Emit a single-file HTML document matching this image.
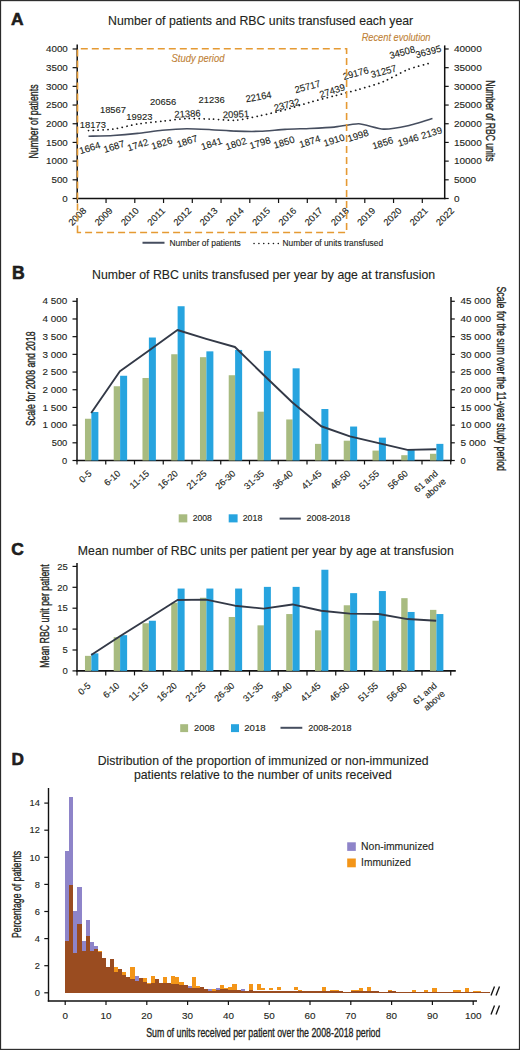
<!DOCTYPE html>
<html><head><meta charset="utf-8"><title>Figure</title>
<style>
html,body{margin:0;padding:0;background:#fff;}
body{width:520px;height:1050px;overflow:hidden;}
svg{display:block;font-family:"Liberation Sans",sans-serif;}
</style></head><body>
<svg width="520" height="1050" viewBox="0 0 520 1050">
<rect x="0.55" y="0.6" width="518.9" height="1048.8" fill="none" stroke="#2a2a2a" stroke-width="1.15"/>
<text x="11.1" y="24.9" style='font-size:17.4px;fill:#231f20;font-weight:bold' stroke="#111" stroke-width="0.55">A</text>
<text x="108" y="25.2" style='font-size:12.2px;fill:#231f20;stroke:#231f20;stroke-width:0.12px' textLength="305.2" lengthAdjust="spacingAndGlyphs">Number of patients and RBC units transfused each year</text>
<line x1="77.2" y1="44.4" x2="77.2" y2="199.2" stroke="#111111" stroke-width="1.5"/>
<line x1="72.6" y1="198.5" x2="77.2" y2="198.5" stroke="#111111" stroke-width="1.2"/>
<text x="67.8" y="201.7" style='font-size:9.2px;fill:#231f20;stroke:#231f20;stroke-width:0.12px' text-anchor="end" textLength="5.45" lengthAdjust="spacingAndGlyphs">0</text>
<line x1="72.6" y1="179.81" x2="77.2" y2="179.81" stroke="#111111" stroke-width="1.2"/>
<text x="67.8" y="183.01" style='font-size:9.2px;fill:#231f20;stroke:#231f20;stroke-width:0.12px' text-anchor="end" textLength="16.35" lengthAdjust="spacingAndGlyphs">500</text>
<line x1="72.6" y1="161.12" x2="77.2" y2="161.12" stroke="#111111" stroke-width="1.2"/>
<text x="67.8" y="164.32" style='font-size:9.2px;fill:#231f20;stroke:#231f20;stroke-width:0.12px' text-anchor="end" textLength="21.8" lengthAdjust="spacingAndGlyphs">1000</text>
<line x1="72.6" y1="142.43" x2="77.2" y2="142.43" stroke="#111111" stroke-width="1.2"/>
<text x="67.8" y="145.63" style='font-size:9.2px;fill:#231f20;stroke:#231f20;stroke-width:0.12px' text-anchor="end" textLength="21.8" lengthAdjust="spacingAndGlyphs">1500</text>
<line x1="72.6" y1="123.74" x2="77.2" y2="123.74" stroke="#111111" stroke-width="1.2"/>
<text x="67.8" y="126.94" style='font-size:9.2px;fill:#231f20;stroke:#231f20;stroke-width:0.12px' text-anchor="end" textLength="21.8" lengthAdjust="spacingAndGlyphs">2000</text>
<line x1="72.6" y1="105.05" x2="77.2" y2="105.05" stroke="#111111" stroke-width="1.2"/>
<text x="67.8" y="108.25" style='font-size:9.2px;fill:#231f20;stroke:#231f20;stroke-width:0.12px' text-anchor="end" textLength="21.8" lengthAdjust="spacingAndGlyphs">2500</text>
<line x1="72.6" y1="86.36" x2="77.2" y2="86.36" stroke="#111111" stroke-width="1.2"/>
<text x="67.8" y="89.56" style='font-size:9.2px;fill:#231f20;stroke:#231f20;stroke-width:0.12px' text-anchor="end" textLength="21.8" lengthAdjust="spacingAndGlyphs">3000</text>
<line x1="72.6" y1="67.67" x2="77.2" y2="67.67" stroke="#111111" stroke-width="1.2"/>
<text x="67.8" y="70.87" style='font-size:9.2px;fill:#231f20;stroke:#231f20;stroke-width:0.12px' text-anchor="end" textLength="21.8" lengthAdjust="spacingAndGlyphs">3500</text>
<line x1="72.6" y1="48.98" x2="77.2" y2="48.98" stroke="#111111" stroke-width="1.2"/>
<text x="67.8" y="52.18" style='font-size:9.2px;fill:#231f20;stroke:#231f20;stroke-width:0.12px' text-anchor="end" textLength="21.8" lengthAdjust="spacingAndGlyphs">4000</text>
<line x1="444.7" y1="45.4" x2="444.7" y2="199.2" stroke="#111111" stroke-width="1.5"/>
<line x1="444.7" y1="198.5" x2="448.7" y2="198.5" stroke="#111111" stroke-width="1.2"/>
<text x="453.9" y="201.7" style='font-size:9.2px;fill:#231f20;stroke:#231f20;stroke-width:0.12px' textLength="5.58" lengthAdjust="spacingAndGlyphs">0</text>
<line x1="444.7" y1="179.81" x2="448.7" y2="179.81" stroke="#111111" stroke-width="1.2"/>
<text x="453.9" y="183.01" style='font-size:9.2px;fill:#231f20;stroke:#231f20;stroke-width:0.12px' textLength="22.32" lengthAdjust="spacingAndGlyphs">5000</text>
<line x1="444.7" y1="161.12" x2="448.7" y2="161.12" stroke="#111111" stroke-width="1.2"/>
<text x="453.9" y="164.32" style='font-size:9.2px;fill:#231f20;stroke:#231f20;stroke-width:0.12px' textLength="27.9" lengthAdjust="spacingAndGlyphs">10000</text>
<line x1="444.7" y1="142.43" x2="448.7" y2="142.43" stroke="#111111" stroke-width="1.2"/>
<text x="453.9" y="145.63" style='font-size:9.2px;fill:#231f20;stroke:#231f20;stroke-width:0.12px' textLength="27.9" lengthAdjust="spacingAndGlyphs">15000</text>
<line x1="444.7" y1="123.74" x2="448.7" y2="123.74" stroke="#111111" stroke-width="1.2"/>
<text x="453.9" y="126.94" style='font-size:9.2px;fill:#231f20;stroke:#231f20;stroke-width:0.12px' textLength="27.9" lengthAdjust="spacingAndGlyphs">20000</text>
<line x1="444.7" y1="105.05" x2="448.7" y2="105.05" stroke="#111111" stroke-width="1.2"/>
<text x="453.9" y="108.25" style='font-size:9.2px;fill:#231f20;stroke:#231f20;stroke-width:0.12px' textLength="27.9" lengthAdjust="spacingAndGlyphs">25000</text>
<line x1="444.7" y1="86.36" x2="448.7" y2="86.36" stroke="#111111" stroke-width="1.2"/>
<text x="453.9" y="89.56" style='font-size:9.2px;fill:#231f20;stroke:#231f20;stroke-width:0.12px' textLength="27.9" lengthAdjust="spacingAndGlyphs">30000</text>
<line x1="444.7" y1="67.67" x2="448.7" y2="67.67" stroke="#111111" stroke-width="1.2"/>
<text x="453.9" y="70.87" style='font-size:9.2px;fill:#231f20;stroke:#231f20;stroke-width:0.12px' textLength="27.9" lengthAdjust="spacingAndGlyphs">35000</text>
<line x1="444.7" y1="48.98" x2="448.7" y2="48.98" stroke="#111111" stroke-width="1.2"/>
<text x="453.9" y="52.18" style='font-size:9.2px;fill:#231f20;stroke:#231f20;stroke-width:0.12px' textLength="27.9" lengthAdjust="spacingAndGlyphs">40000</text>
<line x1="76.5" y1="198.5" x2="445.4" y2="198.5" stroke="#111111" stroke-width="1.6"/>
<line x1="77.3" y1="198.5" x2="77.3" y2="203" stroke="#111111" stroke-width="1.2"/>
<line x1="106.05" y1="198.5" x2="106.05" y2="203" stroke="#111111" stroke-width="1.2"/>
<line x1="134.8" y1="198.5" x2="134.8" y2="203" stroke="#111111" stroke-width="1.2"/>
<line x1="163.55" y1="198.5" x2="163.55" y2="203" stroke="#111111" stroke-width="1.2"/>
<line x1="192.3" y1="198.5" x2="192.3" y2="203" stroke="#111111" stroke-width="1.2"/>
<line x1="221.05" y1="198.5" x2="221.05" y2="203" stroke="#111111" stroke-width="1.2"/>
<line x1="249.8" y1="198.5" x2="249.8" y2="203" stroke="#111111" stroke-width="1.2"/>
<line x1="278.55" y1="198.5" x2="278.55" y2="203" stroke="#111111" stroke-width="1.2"/>
<line x1="307.3" y1="198.5" x2="307.3" y2="203" stroke="#111111" stroke-width="1.2"/>
<line x1="336.05" y1="198.5" x2="336.05" y2="203" stroke="#111111" stroke-width="1.2"/>
<line x1="364.8" y1="198.5" x2="364.8" y2="203" stroke="#111111" stroke-width="1.2"/>
<line x1="393.55" y1="198.5" x2="393.55" y2="203" stroke="#111111" stroke-width="1.2"/>
<line x1="422.3" y1="198.5" x2="422.3" y2="203" stroke="#111111" stroke-width="1.2"/>
<text transform="translate(77.3 216.5) rotate(-45)" x="0" y="0" style='font-size:9.2px;fill:#231f20;stroke:#231f20;stroke-width:0.12px' text-anchor="middle" textLength="21" lengthAdjust="spacingAndGlyphs" dy="3.2">2008</text>
<text transform="translate(103.56 216.5) rotate(-45)" x="0" y="0" style='font-size:9.2px;fill:#231f20;stroke:#231f20;stroke-width:0.12px' text-anchor="middle" textLength="21" lengthAdjust="spacingAndGlyphs" dy="3.2">2009</text>
<text transform="translate(129.82 216.5) rotate(-45)" x="0" y="0" style='font-size:9.2px;fill:#231f20;stroke:#231f20;stroke-width:0.12px' text-anchor="middle" textLength="21" lengthAdjust="spacingAndGlyphs" dy="3.2">2010</text>
<text transform="translate(156.08 216.5) rotate(-45)" x="0" y="0" style='font-size:9.2px;fill:#231f20;stroke:#231f20;stroke-width:0.12px' text-anchor="middle" textLength="21" lengthAdjust="spacingAndGlyphs" dy="3.2">2011</text>
<text transform="translate(182.34 216.5) rotate(-45)" x="0" y="0" style='font-size:9.2px;fill:#231f20;stroke:#231f20;stroke-width:0.12px' text-anchor="middle" textLength="21" lengthAdjust="spacingAndGlyphs" dy="3.2">2012</text>
<text transform="translate(208.6 216.5) rotate(-45)" x="0" y="0" style='font-size:9.2px;fill:#231f20;stroke:#231f20;stroke-width:0.12px' text-anchor="middle" textLength="21" lengthAdjust="spacingAndGlyphs" dy="3.2">2013</text>
<text transform="translate(234.86 216.5) rotate(-45)" x="0" y="0" style='font-size:9.2px;fill:#231f20;stroke:#231f20;stroke-width:0.12px' text-anchor="middle" textLength="21" lengthAdjust="spacingAndGlyphs" dy="3.2">2014</text>
<text transform="translate(261.12 216.5) rotate(-45)" x="0" y="0" style='font-size:9.2px;fill:#231f20;stroke:#231f20;stroke-width:0.12px' text-anchor="middle" textLength="21" lengthAdjust="spacingAndGlyphs" dy="3.2">2015</text>
<text transform="translate(287.38 216.5) rotate(-45)" x="0" y="0" style='font-size:9.2px;fill:#231f20;stroke:#231f20;stroke-width:0.12px' text-anchor="middle" textLength="21" lengthAdjust="spacingAndGlyphs" dy="3.2">2016</text>
<text transform="translate(313.64 216.5) rotate(-45)" x="0" y="0" style='font-size:9.2px;fill:#231f20;stroke:#231f20;stroke-width:0.12px' text-anchor="middle" textLength="21" lengthAdjust="spacingAndGlyphs" dy="3.2">2017</text>
<text transform="translate(339.9 216.5) rotate(-45)" x="0" y="0" style='font-size:9.2px;fill:#231f20;stroke:#231f20;stroke-width:0.12px' text-anchor="middle" textLength="21" lengthAdjust="spacingAndGlyphs" dy="3.2">2018</text>
<text transform="translate(366.16 216.5) rotate(-45)" x="0" y="0" style='font-size:9.2px;fill:#231f20;stroke:#231f20;stroke-width:0.12px' text-anchor="middle" textLength="21" lengthAdjust="spacingAndGlyphs" dy="3.2">2019</text>
<text transform="translate(392.42 216.5) rotate(-45)" x="0" y="0" style='font-size:9.2px;fill:#231f20;stroke:#231f20;stroke-width:0.12px' text-anchor="middle" textLength="21" lengthAdjust="spacingAndGlyphs" dy="3.2">2020</text>
<text transform="translate(418.68 216.5) rotate(-45)" x="0" y="0" style='font-size:9.2px;fill:#231f20;stroke:#231f20;stroke-width:0.12px' text-anchor="middle" textLength="21" lengthAdjust="spacingAndGlyphs" dy="3.2">2021</text>
<text transform="translate(444.94 216.5) rotate(-45)" x="0" y="0" style='font-size:9.2px;fill:#231f20;stroke:#231f20;stroke-width:0.12px' text-anchor="middle" textLength="21" lengthAdjust="spacingAndGlyphs" dy="3.2">2022</text>
<text transform="translate(37.9 121.5) rotate(-90)" x="0" y="0" style='font-size:13px;fill:#231f20;stroke:#231f20;stroke-width:0.35px' text-anchor="middle" textLength="74.1" lengthAdjust="spacingAndGlyphs">Number of patients</text>
<text transform="translate(486 120.85) rotate(90)" x="0" y="0" style='font-size:13px;fill:#231f20;stroke:#231f20;stroke-width:0.35px' text-anchor="middle" textLength="81.3" lengthAdjust="spacingAndGlyphs">Number of RBC units</text>
<path d="M88.5 136.3 C90.96 136.21 108.16 135.73 113.07 135.44 C117.98 135.15 132.73 133.9 137.64 133.38 C142.55 132.86 157.3 130.71 162.21 130.24 C167.12 129.78 181.87 128.77 186.78 128.71 C191.69 128.66 206.44 129.44 211.35 129.68 C216.26 129.93 231.01 130.98 235.92 131.14 C240.83 131.3 255.58 131.47 260.49 131.29 C265.4 131.11 280.15 129.63 285.06 129.35 C289.97 129.06 304.72 128.67 309.63 128.45 C314.54 128.23 329.29 127.57 334.2 127.1 C339.11 126.64 353.86 123.61 358.77 123.81 C363.68 124.02 378.43 128.93 383.34 129.12 C388.25 129.32 403 126.82 407.91 125.76 C412.82 124.7 430.02 119.27 432.48 118.54" fill="none" stroke="#464e5f" stroke-width="1.6"/>
<path d="M88.5 130.57 C91.57 130.39 106.93 129.91 113.07 129.1 C119.21 128.28 131.5 125 137.64 124.03 C143.78 123.05 156.07 121.97 162.21 121.29 C168.35 120.6 180.64 118.83 186.78 118.56 C192.92 118.29 205.21 118.92 211.35 119.12 C217.49 119.32 229.78 120.62 235.92 120.19 C242.06 119.75 254.35 116.95 260.49 115.65 C266.63 114.35 278.92 111.45 285.06 109.79 C291.2 108.13 303.49 104.1 309.63 102.37 C315.77 100.64 328.06 97.55 334.2 95.93 C340.34 94.32 352.63 91.22 358.77 89.44 C364.91 87.66 377.2 84.15 383.34 81.66 C389.48 79.17 401.77 71.91 407.91 69.51 C414.05 67.11 429.41 63.34 432.48 62.46" fill="none" stroke="#1a1a1a" stroke-width="1.75" stroke-dasharray="0.1 4.75" stroke-linecap="round"/>
<text x="92.8" y="127.5" style='font-size:9.6px;fill:#231f20;stroke:#231f20;stroke-width:0.12px' text-anchor="middle" textLength="26.2" lengthAdjust="spacingAndGlyphs">18173</text>
<text x="113" y="113.1" style='font-size:9.6px;fill:#231f20;stroke:#231f20;stroke-width:0.12px' text-anchor="middle" textLength="26.2" lengthAdjust="spacingAndGlyphs">18567</text>
<text x="139.3" y="119.9" style='font-size:9.6px;fill:#231f20;stroke:#231f20;stroke-width:0.12px' text-anchor="middle" textLength="26.2" lengthAdjust="spacingAndGlyphs">19923</text>
<text x="163.2" y="104.5" style='font-size:9.6px;fill:#231f20;stroke:#231f20;stroke-width:0.12px' text-anchor="middle" textLength="26.2" lengthAdjust="spacingAndGlyphs">20656</text>
<text transform="translate(187.4 114.2) rotate(-3)" x="0" y="0" style='font-size:9.6px;fill:#231f20;stroke:#231f20;stroke-width:0.12px' text-anchor="middle" textLength="26.2" lengthAdjust="spacingAndGlyphs" dy="2.9">21386</text>
<text x="211.7" y="103.3" style='font-size:9.6px;fill:#231f20;stroke:#231f20;stroke-width:0.12px' text-anchor="middle" textLength="26.2" lengthAdjust="spacingAndGlyphs">21236</text>
<text transform="translate(236 114.7) rotate(-3)" x="0" y="0" style='font-size:9.6px;fill:#231f20;stroke:#231f20;stroke-width:0.12px' text-anchor="middle" textLength="26.2" lengthAdjust="spacingAndGlyphs" dy="2.9">20951</text>
<text transform="translate(258.6 97.2) rotate(-10)" x="0" y="0" style='font-size:9.6px;fill:#231f20;stroke:#231f20;stroke-width:0.12px' text-anchor="middle" textLength="26.2" lengthAdjust="spacingAndGlyphs" dy="2.9">22164</text>
<text transform="translate(286.8 105.2) rotate(-15)" x="0" y="0" style='font-size:9.6px;fill:#231f20;stroke:#231f20;stroke-width:0.12px' text-anchor="middle" textLength="26.2" lengthAdjust="spacingAndGlyphs" dy="2.9">23732</text>
<text transform="translate(307.7 87) rotate(-15)" x="0" y="0" style='font-size:9.6px;fill:#231f20;stroke:#231f20;stroke-width:0.12px' text-anchor="middle" textLength="26.2" lengthAdjust="spacingAndGlyphs" dy="2.9">25717</text>
<text transform="translate(332.3 91.2) rotate(-18)" x="0" y="0" style='font-size:9.6px;fill:#231f20;stroke:#231f20;stroke-width:0.12px' text-anchor="middle" textLength="26.2" lengthAdjust="spacingAndGlyphs" dy="2.9">27439</text>
<text transform="translate(355.8 73.7) rotate(-15)" x="0" y="0" style='font-size:9.6px;fill:#231f20;stroke:#231f20;stroke-width:0.12px' text-anchor="middle" textLength="26.2" lengthAdjust="spacingAndGlyphs" dy="2.9">29176</text>
<text transform="translate(383.7 71.8) rotate(-15)" x="0" y="0" style='font-size:9.6px;fill:#231f20;stroke:#231f20;stroke-width:0.12px' text-anchor="middle" textLength="26.2" lengthAdjust="spacingAndGlyphs" dy="2.9">31257</text>
<text transform="translate(402.3 52.7) rotate(-15)" x="0" y="0" style='font-size:9.6px;fill:#231f20;stroke:#231f20;stroke-width:0.12px' text-anchor="middle" textLength="26.2" lengthAdjust="spacingAndGlyphs" dy="2.9">34508</text>
<text transform="translate(428.4 52) rotate(-15)" x="0" y="0" style='font-size:9.6px;fill:#231f20;stroke:#231f20;stroke-width:0.12px' text-anchor="middle" textLength="26.2" lengthAdjust="spacingAndGlyphs" dy="2.9">36395</text>
<text transform="translate(89.8 147.9) rotate(-18)" x="0" y="0" style='font-size:9.6px;fill:#231f20;stroke:#231f20;stroke-width:0.12px' text-anchor="middle" textLength="21.5" lengthAdjust="spacingAndGlyphs" dy="3.3">1664</text>
<text transform="translate(114 146.5) rotate(-18)" x="0" y="0" style='font-size:9.6px;fill:#231f20;stroke:#231f20;stroke-width:0.12px' text-anchor="middle" textLength="21.5" lengthAdjust="spacingAndGlyphs" dy="3.3">1687</text>
<text transform="translate(137.8 145) rotate(-18)" x="0" y="0" style='font-size:9.6px;fill:#231f20;stroke:#231f20;stroke-width:0.12px' text-anchor="middle" textLength="21.5" lengthAdjust="spacingAndGlyphs" dy="3.3">1742</text>
<text transform="translate(161.8 143.3) rotate(-18)" x="0" y="0" style='font-size:9.6px;fill:#231f20;stroke:#231f20;stroke-width:0.12px' text-anchor="middle" textLength="21.5" lengthAdjust="spacingAndGlyphs" dy="3.3">1826</text>
<text transform="translate(187.1 141.2) rotate(-18)" x="0" y="0" style='font-size:9.6px;fill:#231f20;stroke:#231f20;stroke-width:0.12px' text-anchor="middle" textLength="21.5" lengthAdjust="spacingAndGlyphs" dy="3.3">1867</text>
<text transform="translate(211.5 143.7) rotate(-18)" x="0" y="0" style='font-size:9.6px;fill:#231f20;stroke:#231f20;stroke-width:0.12px' text-anchor="middle" textLength="21.5" lengthAdjust="spacingAndGlyphs" dy="3.3">1841</text>
<text transform="translate(236 143.7) rotate(-18)" x="0" y="0" style='font-size:9.6px;fill:#231f20;stroke:#231f20;stroke-width:0.12px' text-anchor="middle" textLength="21.5" lengthAdjust="spacingAndGlyphs" dy="3.3">1802</text>
<text transform="translate(260 142.9) rotate(-18)" x="0" y="0" style='font-size:9.6px;fill:#231f20;stroke:#231f20;stroke-width:0.12px' text-anchor="middle" textLength="21.5" lengthAdjust="spacingAndGlyphs" dy="3.3">1798</text>
<text transform="translate(284 142.3) rotate(-18)" x="0" y="0" style='font-size:9.6px;fill:#231f20;stroke:#231f20;stroke-width:0.12px' text-anchor="middle" textLength="21.5" lengthAdjust="spacingAndGlyphs" dy="3.3">1850</text>
<text transform="translate(309.8 141.5) rotate(-18)" x="0" y="0" style='font-size:9.6px;fill:#231f20;stroke:#231f20;stroke-width:0.12px' text-anchor="middle" textLength="21.5" lengthAdjust="spacingAndGlyphs" dy="3.3">1874</text>
<text transform="translate(334 140.2) rotate(-18)" x="0" y="0" style='font-size:9.6px;fill:#231f20;stroke:#231f20;stroke-width:0.12px' text-anchor="middle" textLength="21.5" lengthAdjust="spacingAndGlyphs" dy="3.3">1910</text>
<text transform="translate(358 135.6) rotate(-18)" x="0" y="0" style='font-size:9.6px;fill:#231f20;stroke:#231f20;stroke-width:0.12px' text-anchor="middle" textLength="21.5" lengthAdjust="spacingAndGlyphs" dy="3.3">1998</text>
<text transform="translate(382.7 143.1) rotate(-18)" x="0" y="0" style='font-size:9.6px;fill:#231f20;stroke:#231f20;stroke-width:0.12px' text-anchor="middle" textLength="21.5" lengthAdjust="spacingAndGlyphs" dy="3.3">1856</text>
<text transform="translate(408.2 140.2) rotate(-18)" x="0" y="0" style='font-size:9.6px;fill:#231f20;stroke:#231f20;stroke-width:0.12px' text-anchor="middle" textLength="21.5" lengthAdjust="spacingAndGlyphs" dy="3.3">1946</text>
<text transform="translate(431.5 132.9) rotate(-18)" x="0" y="0" style='font-size:9.6px;fill:#231f20;stroke:#231f20;stroke-width:0.12px' text-anchor="middle" textLength="21.5" lengthAdjust="spacingAndGlyphs" dy="3.3">2139</text>
<path d="M77.5 232.5 L77.5 48.8 L346.6 48.8 L346.6 232.5 Z" fill="none" stroke="#e59a33" stroke-width="1.6" stroke-dasharray="7 4"/>
<text x="171.6" y="62" style='font-size:10.2px;fill:#c08237;stroke:#c08237;stroke-width:0.12px;font-style:italic' textLength="52.8" lengthAdjust="spacingAndGlyphs">Study period</text>
<text x="361.7" y="40.9" style='font-size:10.2px;fill:#c08237;stroke:#c08237;stroke-width:0.12px;font-style:italic' textLength="68.8" lengthAdjust="spacingAndGlyphs">Recent evolution</text>
<line x1="142.5" y1="242.75" x2="164.5" y2="242.75" stroke="#464e5f" stroke-width="2"/>
<text x="169.5" y="245.6" style='font-size:8.4px;fill:#231f20;stroke:#231f20;stroke-width:0.12px' textLength="71.25" lengthAdjust="spacingAndGlyphs">Number of patients</text>
<line x1="254" y1="243.4" x2="279" y2="243.4" stroke="#1a1a1a" stroke-width="1.5" stroke-dasharray="0.1 4.75" stroke-linecap="round"/>
<text x="282.5" y="245.6" style='font-size:8.4px;fill:#231f20;stroke:#231f20;stroke-width:0.12px' textLength="100.6" lengthAdjust="spacingAndGlyphs">Number of units transfused</text>
<text x="11.9" y="278.8" style='font-size:17.6px;fill:#231f20;font-weight:bold' stroke="#111" stroke-width="0.55">B</text>
<text x="92.1" y="278.7" style='font-size:12.2px;fill:#231f20;stroke:#231f20;stroke-width:0.12px' textLength="343.1" lengthAdjust="spacingAndGlyphs">Number of RBC units transfused per year by age at transfusion</text>
<line x1="77" y1="298" x2="77" y2="461.2" stroke="#111111" stroke-width="1.5"/>
<line x1="451" y1="297" x2="451" y2="461.2" stroke="#111111" stroke-width="1.5"/>
<line x1="76.3" y1="460.5" x2="451.7" y2="460.5" stroke="#111111" stroke-width="1.6"/>
<line x1="72.5" y1="460.5" x2="77" y2="460.5" stroke="#111111" stroke-width="1.2"/>
<line x1="451" y1="460.5" x2="454.8" y2="460.5" stroke="#111111" stroke-width="1.2"/>
<text x="67.3" y="463.7" style='font-size:9.2px;fill:#231f20;stroke:#231f20;stroke-width:0.12px' text-anchor="end" textLength="5.2" lengthAdjust="spacingAndGlyphs">0</text>
<text x="460.6" y="463.7" style='font-size:9.2px;fill:#231f20;stroke:#231f20;stroke-width:0.12px' textLength="5.2" lengthAdjust="spacingAndGlyphs">0</text>
<line x1="72.5" y1="442.81" x2="77" y2="442.81" stroke="#111111" stroke-width="1.2"/>
<line x1="451" y1="442.81" x2="454.8" y2="442.81" stroke="#111111" stroke-width="1.2"/>
<text x="67.3" y="446.01" style='font-size:9.2px;fill:#231f20;stroke:#231f20;stroke-width:0.12px' text-anchor="end" textLength="15.6" lengthAdjust="spacingAndGlyphs">500</text>
<text x="460.6" y="446.01" style='font-size:9.2px;fill:#231f20;stroke:#231f20;stroke-width:0.12px' textLength="25.25" lengthAdjust="spacingAndGlyphs">5 000</text>
<line x1="72.5" y1="425.12" x2="77" y2="425.12" stroke="#111111" stroke-width="1.2"/>
<line x1="451" y1="425.12" x2="454.8" y2="425.12" stroke="#111111" stroke-width="1.2"/>
<text x="67.3" y="428.32" style='font-size:9.2px;fill:#231f20;stroke:#231f20;stroke-width:0.12px' text-anchor="end" textLength="24.75" lengthAdjust="spacingAndGlyphs">1 000</text>
<text x="460.6" y="428.32" style='font-size:9.2px;fill:#231f20;stroke:#231f20;stroke-width:0.12px' textLength="30.3" lengthAdjust="spacingAndGlyphs">10 000</text>
<line x1="72.5" y1="407.43" x2="77" y2="407.43" stroke="#111111" stroke-width="1.2"/>
<line x1="451" y1="407.43" x2="454.8" y2="407.43" stroke="#111111" stroke-width="1.2"/>
<text x="67.3" y="410.63" style='font-size:9.2px;fill:#231f20;stroke:#231f20;stroke-width:0.12px' text-anchor="end" textLength="24.75" lengthAdjust="spacingAndGlyphs">1 500</text>
<text x="460.6" y="410.63" style='font-size:9.2px;fill:#231f20;stroke:#231f20;stroke-width:0.12px' textLength="30.3" lengthAdjust="spacingAndGlyphs">15 000</text>
<line x1="72.5" y1="389.74" x2="77" y2="389.74" stroke="#111111" stroke-width="1.2"/>
<line x1="451" y1="389.74" x2="454.8" y2="389.74" stroke="#111111" stroke-width="1.2"/>
<text x="67.3" y="392.94" style='font-size:9.2px;fill:#231f20;stroke:#231f20;stroke-width:0.12px' text-anchor="end" textLength="24.75" lengthAdjust="spacingAndGlyphs">2 000</text>
<text x="460.6" y="392.94" style='font-size:9.2px;fill:#231f20;stroke:#231f20;stroke-width:0.12px' textLength="30.3" lengthAdjust="spacingAndGlyphs">20 000</text>
<line x1="72.5" y1="372.05" x2="77" y2="372.05" stroke="#111111" stroke-width="1.2"/>
<line x1="451" y1="372.05" x2="454.8" y2="372.05" stroke="#111111" stroke-width="1.2"/>
<text x="67.3" y="375.25" style='font-size:9.2px;fill:#231f20;stroke:#231f20;stroke-width:0.12px' text-anchor="end" textLength="24.75" lengthAdjust="spacingAndGlyphs">2 500</text>
<text x="460.6" y="375.25" style='font-size:9.2px;fill:#231f20;stroke:#231f20;stroke-width:0.12px' textLength="30.3" lengthAdjust="spacingAndGlyphs">25 000</text>
<line x1="72.5" y1="354.36" x2="77" y2="354.36" stroke="#111111" stroke-width="1.2"/>
<line x1="451" y1="354.36" x2="454.8" y2="354.36" stroke="#111111" stroke-width="1.2"/>
<text x="67.3" y="357.56" style='font-size:9.2px;fill:#231f20;stroke:#231f20;stroke-width:0.12px' text-anchor="end" textLength="24.75" lengthAdjust="spacingAndGlyphs">3 000</text>
<text x="460.6" y="357.56" style='font-size:9.2px;fill:#231f20;stroke:#231f20;stroke-width:0.12px' textLength="30.3" lengthAdjust="spacingAndGlyphs">30 000</text>
<line x1="72.5" y1="336.67" x2="77" y2="336.67" stroke="#111111" stroke-width="1.2"/>
<line x1="451" y1="336.67" x2="454.8" y2="336.67" stroke="#111111" stroke-width="1.2"/>
<text x="67.3" y="339.87" style='font-size:9.2px;fill:#231f20;stroke:#231f20;stroke-width:0.12px' text-anchor="end" textLength="24.75" lengthAdjust="spacingAndGlyphs">3 500</text>
<text x="460.6" y="339.87" style='font-size:9.2px;fill:#231f20;stroke:#231f20;stroke-width:0.12px' textLength="30.3" lengthAdjust="spacingAndGlyphs">35 000</text>
<line x1="72.5" y1="318.98" x2="77" y2="318.98" stroke="#111111" stroke-width="1.2"/>
<line x1="451" y1="318.98" x2="454.8" y2="318.98" stroke="#111111" stroke-width="1.2"/>
<text x="67.3" y="322.18" style='font-size:9.2px;fill:#231f20;stroke:#231f20;stroke-width:0.12px' text-anchor="end" textLength="24.75" lengthAdjust="spacingAndGlyphs">4 000</text>
<text x="460.6" y="322.18" style='font-size:9.2px;fill:#231f20;stroke:#231f20;stroke-width:0.12px' textLength="30.3" lengthAdjust="spacingAndGlyphs">40 000</text>
<line x1="72.5" y1="301.29" x2="77" y2="301.29" stroke="#111111" stroke-width="1.2"/>
<line x1="451" y1="301.29" x2="454.8" y2="301.29" stroke="#111111" stroke-width="1.2"/>
<text x="67.3" y="304.49" style='font-size:9.2px;fill:#231f20;stroke:#231f20;stroke-width:0.12px' text-anchor="end" textLength="24.75" lengthAdjust="spacingAndGlyphs">4 500</text>
<text x="460.6" y="304.49" style='font-size:9.2px;fill:#231f20;stroke:#231f20;stroke-width:0.12px' textLength="30.3" lengthAdjust="spacingAndGlyphs">45 000</text>
<line x1="77" y1="460.5" x2="77" y2="464.5" stroke="#111111" stroke-width="1.2"/>
<line x1="105.75" y1="460.5" x2="105.75" y2="464.5" stroke="#111111" stroke-width="1.2"/>
<line x1="134.5" y1="460.5" x2="134.5" y2="464.5" stroke="#111111" stroke-width="1.2"/>
<line x1="163.25" y1="460.5" x2="163.25" y2="464.5" stroke="#111111" stroke-width="1.2"/>
<line x1="192" y1="460.5" x2="192" y2="464.5" stroke="#111111" stroke-width="1.2"/>
<line x1="220.75" y1="460.5" x2="220.75" y2="464.5" stroke="#111111" stroke-width="1.2"/>
<line x1="249.5" y1="460.5" x2="249.5" y2="464.5" stroke="#111111" stroke-width="1.2"/>
<line x1="278.25" y1="460.5" x2="278.25" y2="464.5" stroke="#111111" stroke-width="1.2"/>
<line x1="307" y1="460.5" x2="307" y2="464.5" stroke="#111111" stroke-width="1.2"/>
<line x1="335.75" y1="460.5" x2="335.75" y2="464.5" stroke="#111111" stroke-width="1.2"/>
<line x1="364.5" y1="460.5" x2="364.5" y2="464.5" stroke="#111111" stroke-width="1.2"/>
<line x1="393.25" y1="460.5" x2="393.25" y2="464.5" stroke="#111111" stroke-width="1.2"/>
<line x1="422" y1="460.5" x2="422" y2="464.5" stroke="#111111" stroke-width="1.2"/>
<line x1="450.75" y1="460.5" x2="450.75" y2="464.5" stroke="#111111" stroke-width="1.2"/>
<rect x="84.97" y="418.75" width="6.4" height="41.75" fill="#a8bb80"/>
<rect x="91.38" y="411.99" width="7" height="48.51" fill="#27a4df"/>
<rect x="113.72" y="386.24" width="6.4" height="74.26" fill="#a8bb80"/>
<rect x="120.12" y="375.76" width="7" height="84.74" fill="#27a4df"/>
<rect x="142.47" y="377.99" width="6.4" height="82.51" fill="#a8bb80"/>
<rect x="148.88" y="337.52" width="7" height="122.98" fill="#27a4df"/>
<rect x="171.22" y="354.25" width="6.4" height="106.25" fill="#a8bb80"/>
<rect x="177.62" y="306.24" width="7" height="154.26" fill="#27a4df"/>
<rect x="199.97" y="357.19" width="6.4" height="103.31" fill="#a8bb80"/>
<rect x="206.38" y="351.35" width="7" height="109.15" fill="#27a4df"/>
<rect x="228.72" y="375.23" width="6.4" height="85.27" fill="#a8bb80"/>
<rect x="235.12" y="349.94" width="7" height="110.56" fill="#27a4df"/>
<rect x="257.48" y="411.68" width="6.4" height="48.82" fill="#a8bb80"/>
<rect x="263.88" y="350.82" width="7" height="109.68" fill="#27a4df"/>
<rect x="286.23" y="419.46" width="6.4" height="41.04" fill="#a8bb80"/>
<rect x="292.62" y="368.34" width="7" height="92.16" fill="#27a4df"/>
<rect x="314.98" y="443.87" width="6.4" height="16.63" fill="#a8bb80"/>
<rect x="321.38" y="409.02" width="7" height="51.48" fill="#27a4df"/>
<rect x="343.73" y="440.69" width="6.4" height="19.81" fill="#a8bb80"/>
<rect x="350.12" y="426.54" width="7" height="33.96" fill="#27a4df"/>
<rect x="372.48" y="450.59" width="6.4" height="9.91" fill="#a8bb80"/>
<rect x="378.88" y="437.64" width="7" height="22.86" fill="#27a4df"/>
<rect x="401.23" y="455.19" width="6.4" height="5.31" fill="#a8bb80"/>
<rect x="407.62" y="449.36" width="7" height="11.14" fill="#27a4df"/>
<rect x="429.98" y="453.78" width="6.4" height="6.72" fill="#a8bb80"/>
<rect x="436.38" y="443.87" width="7" height="16.63" fill="#27a4df"/>
<path d="M91.17 413.01 L119.92 371.27 L148.68 350.82 L177.43 330.03 L206.18 338.79 L234.93 347.03 L263.68 375.01 L292.43 402.51 L321.18 426.26 L349.93 436.44 L378.68 443.16 L407.43 449.89 L436.18 449.28" fill="none" stroke="#333947" stroke-width="1.9" stroke-linejoin="round"/>
<text transform="translate(92.38 474.3) rotate(-42)" x="0" y="0" style='font-size:9.2px;fill:#231f20;stroke:#231f20;stroke-width:0.12px' text-anchor="end">0-5</text>
<text transform="translate(121.12 474.3) rotate(-42)" x="0" y="0" style='font-size:9.2px;fill:#231f20;stroke:#231f20;stroke-width:0.12px' text-anchor="end">6-10</text>
<text transform="translate(149.88 474.3) rotate(-42)" x="0" y="0" style='font-size:9.2px;fill:#231f20;stroke:#231f20;stroke-width:0.12px' text-anchor="end">11-15</text>
<text transform="translate(178.62 474.3) rotate(-42)" x="0" y="0" style='font-size:9.2px;fill:#231f20;stroke:#231f20;stroke-width:0.12px' text-anchor="end">16-20</text>
<text transform="translate(207.38 474.3) rotate(-42)" x="0" y="0" style='font-size:9.2px;fill:#231f20;stroke:#231f20;stroke-width:0.12px' text-anchor="end">21-25</text>
<text transform="translate(236.12 474.3) rotate(-42)" x="0" y="0" style='font-size:9.2px;fill:#231f20;stroke:#231f20;stroke-width:0.12px' text-anchor="end">26-30</text>
<text transform="translate(264.88 474.3) rotate(-42)" x="0" y="0" style='font-size:9.2px;fill:#231f20;stroke:#231f20;stroke-width:0.12px' text-anchor="end">31-35</text>
<text transform="translate(293.62 474.3) rotate(-42)" x="0" y="0" style='font-size:9.2px;fill:#231f20;stroke:#231f20;stroke-width:0.12px' text-anchor="end">36-40</text>
<text transform="translate(322.38 474.3) rotate(-42)" x="0" y="0" style='font-size:9.2px;fill:#231f20;stroke:#231f20;stroke-width:0.12px' text-anchor="end">41-45</text>
<text transform="translate(351.12 474.3) rotate(-42)" x="0" y="0" style='font-size:9.2px;fill:#231f20;stroke:#231f20;stroke-width:0.12px' text-anchor="end">46-50</text>
<text transform="translate(379.88 474.3) rotate(-42)" x="0" y="0" style='font-size:9.2px;fill:#231f20;stroke:#231f20;stroke-width:0.12px' text-anchor="end">51-55</text>
<text transform="translate(408.62 474.3) rotate(-42)" x="0" y="0" style='font-size:9.2px;fill:#231f20;stroke:#231f20;stroke-width:0.12px' text-anchor="end">56-60</text>
<text transform="translate(438.5 474.3) rotate(-42)" x="0" y="0" style='font-size:9.2px;fill:#231f20;stroke:#231f20;stroke-width:0.12px' text-anchor="end">61 and</text>
<text transform="translate(446.5 482.3) rotate(-42)" x="0" y="0" style='font-size:9.2px;fill:#231f20;stroke:#231f20;stroke-width:0.12px' text-anchor="end">above</text>
<text transform="translate(34.8 378.7) rotate(-90)" x="0" y="0" style='font-size:13px;fill:#231f20;stroke:#231f20;stroke-width:0.35px' text-anchor="middle" textLength="94.5" lengthAdjust="spacingAndGlyphs">Scale for 2008 and 2018</text>
<text transform="translate(497 378.75) rotate(90)" x="0" y="0" style='font-size:13px;fill:#231f20;stroke:#231f20;stroke-width:0.35px' text-anchor="middle" textLength="184.5" lengthAdjust="spacingAndGlyphs">Scale for the sum over the 11-year study period</text>
<rect x="178.7" y="514.3" width="8.6" height="8.1" fill="#a8bb80"/>
<text x="192.7" y="521.4" style='font-size:8.6px;fill:#231f20;stroke:#231f20;stroke-width:0.12px' textLength="19.2" lengthAdjust="spacingAndGlyphs">2008</text>
<rect x="228.7" y="514.3" width="8.9" height="8.1" fill="#27a4df"/>
<text x="242.7" y="521.4" style='font-size:8.6px;fill:#231f20;stroke:#231f20;stroke-width:0.12px' textLength="19.6" lengthAdjust="spacingAndGlyphs">2018</text>
<line x1="279.6" y1="518.6" x2="300.8" y2="518.6" stroke="#464e5f" stroke-width="2"/>
<text x="306.5" y="521.4" style='font-size:8.6px;fill:#231f20;stroke:#231f20;stroke-width:0.12px' textLength="43.5" lengthAdjust="spacingAndGlyphs">2008-2018</text>
<text x="11.3" y="554.9" style='font-size:17.4px;fill:#231f20;font-weight:bold' stroke="#111" stroke-width="0.55">C</text>
<text x="77.8" y="554.7" style='font-size:12.2px;fill:#231f20;stroke:#231f20;stroke-width:0.12px' textLength="376" lengthAdjust="spacingAndGlyphs">Mean number of RBC units per patient per year by age at transfusion</text>
<line x1="77" y1="563" x2="77" y2="671.6" stroke="#111111" stroke-width="1.5"/>
<line x1="76.3" y1="670.9" x2="455.8" y2="670.9" stroke="#111111" stroke-width="1.6"/>
<line x1="72.5" y1="670.9" x2="77" y2="670.9" stroke="#111111" stroke-width="1.2"/>
<text x="67.9" y="674.1" style='font-size:9.2px;fill:#231f20;stroke:#231f20;stroke-width:0.12px' text-anchor="end" textLength="5.3" lengthAdjust="spacingAndGlyphs">0</text>
<line x1="72.5" y1="650" x2="77" y2="650" stroke="#111111" stroke-width="1.2"/>
<text x="67.9" y="653.2" style='font-size:9.2px;fill:#231f20;stroke:#231f20;stroke-width:0.12px' text-anchor="end" textLength="5.3" lengthAdjust="spacingAndGlyphs">5</text>
<line x1="72.5" y1="629.1" x2="77" y2="629.1" stroke="#111111" stroke-width="1.2"/>
<text x="67.9" y="632.3" style='font-size:9.2px;fill:#231f20;stroke:#231f20;stroke-width:0.12px' text-anchor="end" textLength="10.6" lengthAdjust="spacingAndGlyphs">10</text>
<line x1="72.5" y1="608.2" x2="77" y2="608.2" stroke="#111111" stroke-width="1.2"/>
<text x="67.9" y="611.4" style='font-size:9.2px;fill:#231f20;stroke:#231f20;stroke-width:0.12px' text-anchor="end" textLength="10.6" lengthAdjust="spacingAndGlyphs">15</text>
<line x1="72.5" y1="587.3" x2="77" y2="587.3" stroke="#111111" stroke-width="1.2"/>
<text x="67.9" y="590.5" style='font-size:9.2px;fill:#231f20;stroke:#231f20;stroke-width:0.12px' text-anchor="end" textLength="10.6" lengthAdjust="spacingAndGlyphs">20</text>
<line x1="72.5" y1="566.4" x2="77" y2="566.4" stroke="#111111" stroke-width="1.2"/>
<text x="67.9" y="569.6" style='font-size:9.2px;fill:#231f20;stroke:#231f20;stroke-width:0.12px' text-anchor="end" textLength="10.6" lengthAdjust="spacingAndGlyphs">25</text>
<line x1="77" y1="670.9" x2="77" y2="675.4" stroke="#111111" stroke-width="1.2"/>
<line x1="105.75" y1="670.9" x2="105.75" y2="675.4" stroke="#111111" stroke-width="1.2"/>
<line x1="134.5" y1="670.9" x2="134.5" y2="675.4" stroke="#111111" stroke-width="1.2"/>
<line x1="163.25" y1="670.9" x2="163.25" y2="675.4" stroke="#111111" stroke-width="1.2"/>
<line x1="192" y1="670.9" x2="192" y2="675.4" stroke="#111111" stroke-width="1.2"/>
<line x1="220.75" y1="670.9" x2="220.75" y2="675.4" stroke="#111111" stroke-width="1.2"/>
<line x1="249.5" y1="670.9" x2="249.5" y2="675.4" stroke="#111111" stroke-width="1.2"/>
<line x1="278.25" y1="670.9" x2="278.25" y2="675.4" stroke="#111111" stroke-width="1.2"/>
<line x1="307" y1="670.9" x2="307" y2="675.4" stroke="#111111" stroke-width="1.2"/>
<line x1="335.75" y1="670.9" x2="335.75" y2="675.4" stroke="#111111" stroke-width="1.2"/>
<line x1="364.5" y1="670.9" x2="364.5" y2="675.4" stroke="#111111" stroke-width="1.2"/>
<line x1="393.25" y1="670.9" x2="393.25" y2="675.4" stroke="#111111" stroke-width="1.2"/>
<line x1="422" y1="670.9" x2="422" y2="675.4" stroke="#111111" stroke-width="1.2"/>
<line x1="450.75" y1="670.9" x2="450.75" y2="675.4" stroke="#111111" stroke-width="1.2"/>
<rect x="84.97" y="655.85" width="6.4" height="15.05" fill="#a8bb80"/>
<rect x="91.38" y="653.34" width="7" height="17.56" fill="#27a4df"/>
<rect x="113.72" y="637.17" width="6.4" height="33.73" fill="#a8bb80"/>
<rect x="120.12" y="635.16" width="7" height="35.74" fill="#27a4df"/>
<rect x="142.47" y="623.25" width="6.4" height="47.65" fill="#a8bb80"/>
<rect x="148.88" y="620.74" width="7" height="50.16" fill="#27a4df"/>
<rect x="171.22" y="602.77" width="6.4" height="68.13" fill="#a8bb80"/>
<rect x="177.62" y="588.55" width="7" height="82.35" fill="#27a4df"/>
<rect x="199.97" y="597.75" width="6.4" height="73.15" fill="#a8bb80"/>
<rect x="206.38" y="588.55" width="7" height="82.35" fill="#27a4df"/>
<rect x="228.72" y="616.98" width="6.4" height="53.92" fill="#a8bb80"/>
<rect x="235.12" y="588.55" width="7" height="82.35" fill="#27a4df"/>
<rect x="257.48" y="625.34" width="6.4" height="45.56" fill="#a8bb80"/>
<rect x="263.88" y="586.88" width="7" height="84.02" fill="#27a4df"/>
<rect x="286.23" y="614.05" width="6.4" height="56.85" fill="#a8bb80"/>
<rect x="292.62" y="586.88" width="7" height="84.02" fill="#27a4df"/>
<rect x="314.98" y="630.35" width="6.4" height="40.55" fill="#a8bb80"/>
<rect x="321.38" y="569.74" width="7" height="101.16" fill="#27a4df"/>
<rect x="343.73" y="605.27" width="6.4" height="65.63" fill="#a8bb80"/>
<rect x="350.12" y="593.15" width="7" height="77.75" fill="#27a4df"/>
<rect x="372.48" y="620.74" width="6.4" height="50.16" fill="#a8bb80"/>
<rect x="378.88" y="591.06" width="7" height="79.84" fill="#27a4df"/>
<rect x="401.23" y="598.17" width="6.4" height="72.73" fill="#a8bb80"/>
<rect x="407.62" y="611.96" width="7" height="58.94" fill="#27a4df"/>
<rect x="429.98" y="609.87" width="6.4" height="61.03" fill="#a8bb80"/>
<rect x="436.38" y="614.05" width="7" height="56.85" fill="#27a4df"/>
<path d="M91.17 655.02 L119.92 636.21 L148.68 618.23 L177.43 600.05 L206.18 599.63 L234.93 605.69 L263.68 608.62 L292.43 604.44 L321.18 610.71 L349.93 613.63 L378.68 614.05 L407.43 619.07 L436.18 620.74" fill="none" stroke="#333947" stroke-width="1.9" stroke-linejoin="round"/>
<text transform="translate(91.38 686.5) rotate(-42)" x="0" y="0" style='font-size:9.2px;fill:#231f20;stroke:#231f20;stroke-width:0.12px' text-anchor="end">0-5</text>
<text transform="translate(120.12 686.5) rotate(-42)" x="0" y="0" style='font-size:9.2px;fill:#231f20;stroke:#231f20;stroke-width:0.12px' text-anchor="end">6-10</text>
<text transform="translate(148.88 686.5) rotate(-42)" x="0" y="0" style='font-size:9.2px;fill:#231f20;stroke:#231f20;stroke-width:0.12px' text-anchor="end">11-15</text>
<text transform="translate(177.62 686.5) rotate(-42)" x="0" y="0" style='font-size:9.2px;fill:#231f20;stroke:#231f20;stroke-width:0.12px' text-anchor="end">16-20</text>
<text transform="translate(206.38 686.5) rotate(-42)" x="0" y="0" style='font-size:9.2px;fill:#231f20;stroke:#231f20;stroke-width:0.12px' text-anchor="end">21-25</text>
<text transform="translate(235.12 686.5) rotate(-42)" x="0" y="0" style='font-size:9.2px;fill:#231f20;stroke:#231f20;stroke-width:0.12px' text-anchor="end">26-30</text>
<text transform="translate(263.88 686.5) rotate(-42)" x="0" y="0" style='font-size:9.2px;fill:#231f20;stroke:#231f20;stroke-width:0.12px' text-anchor="end">31-35</text>
<text transform="translate(292.62 686.5) rotate(-42)" x="0" y="0" style='font-size:9.2px;fill:#231f20;stroke:#231f20;stroke-width:0.12px' text-anchor="end">36-40</text>
<text transform="translate(321.38 686.5) rotate(-42)" x="0" y="0" style='font-size:9.2px;fill:#231f20;stroke:#231f20;stroke-width:0.12px' text-anchor="end">41-45</text>
<text transform="translate(350.12 686.5) rotate(-42)" x="0" y="0" style='font-size:9.2px;fill:#231f20;stroke:#231f20;stroke-width:0.12px' text-anchor="end">46-50</text>
<text transform="translate(378.88 686.5) rotate(-42)" x="0" y="0" style='font-size:9.2px;fill:#231f20;stroke:#231f20;stroke-width:0.12px' text-anchor="end">51-55</text>
<text transform="translate(407.62 686.5) rotate(-42)" x="0" y="0" style='font-size:9.2px;fill:#231f20;stroke:#231f20;stroke-width:0.12px' text-anchor="end">56-60</text>
<text transform="translate(437.5 686.5) rotate(-42)" x="0" y="0" style='font-size:9.2px;fill:#231f20;stroke:#231f20;stroke-width:0.12px' text-anchor="end">61 and</text>
<text transform="translate(445.5 694.5) rotate(-42)" x="0" y="0" style='font-size:9.2px;fill:#231f20;stroke:#231f20;stroke-width:0.12px' text-anchor="end">above</text>
<text transform="translate(49.3 616.1) rotate(-90)" x="0" y="0" style='font-size:13px;fill:#231f20;stroke:#231f20;stroke-width:0.35px' text-anchor="middle" textLength="103.4" lengthAdjust="spacingAndGlyphs">Mean RBC unit per patient</text>
<rect x="180.2" y="724.2" width="7.9" height="7.9" fill="#a8bb80"/>
<text x="194" y="731.2" style='font-size:8.6px;fill:#231f20;stroke:#231f20;stroke-width:0.12px' textLength="20.8" lengthAdjust="spacingAndGlyphs">2008</text>
<rect x="231" y="724.2" width="8" height="7.9" fill="#27a4df"/>
<text x="244.2" y="731.2" style='font-size:8.6px;fill:#231f20;stroke:#231f20;stroke-width:0.12px' textLength="21.5" lengthAdjust="spacingAndGlyphs">2018</text>
<line x1="280.5" y1="727.8" x2="302.3" y2="727.8" stroke="#464e5f" stroke-width="2"/>
<text x="308.2" y="731.2" style='font-size:8.6px;fill:#231f20;stroke:#231f20;stroke-width:0.12px' textLength="43.3" lengthAdjust="spacingAndGlyphs">2008-2018</text>
<text x="11.4" y="764.9" style='font-size:17.2px;fill:#231f20;font-weight:bold' stroke="#111" stroke-width="0.55">D</text>
<text x="263.2" y="765" style='font-size:12.2px;fill:#231f20;stroke:#231f20;stroke-width:0.12px' text-anchor="middle" textLength="330.8" lengthAdjust="spacingAndGlyphs">Distribution of the proportion of immunized or non-immunized</text>
<text x="262.9" y="779.3" style='font-size:12.2px;fill:#231f20;stroke:#231f20;stroke-width:0.12px' text-anchor="middle" textLength="258" lengthAdjust="spacingAndGlyphs">patients relative to the number of units received</text>
<g shape-rendering="crispEdges">
<rect x="65.2" y="851.07" width="4.13" height="90.24" fill="#8e84c9"/>
<rect x="65.2" y="941.31" width="4.13" height="51.49" fill="#9a4c20"/>
<rect x="69.28" y="797.41" width="4.13" height="87.13" fill="#8e84c9"/>
<rect x="69.28" y="884.54" width="4.13" height="108.26" fill="#9a4c20"/>
<rect x="73.36" y="911.09" width="4.13" height="42.28" fill="#8e84c9"/>
<rect x="73.36" y="953.37" width="4.13" height="39.43" fill="#9a4c20"/>
<rect x="77.44" y="886.57" width="4.13" height="37.4" fill="#8e84c9"/>
<rect x="77.44" y="923.97" width="4.13" height="68.83" fill="#9a4c20"/>
<rect x="81.52" y="940.9" width="4.13" height="10.43" fill="#8e84c9"/>
<rect x="81.52" y="951.34" width="4.13" height="41.46" fill="#9a4c20"/>
<rect x="85.6" y="919.63" width="4.13" height="16.53" fill="#8e84c9"/>
<rect x="85.6" y="936.16" width="4.13" height="56.64" fill="#9a4c20"/>
<rect x="89.68" y="941.85" width="4.13" height="9.48" fill="#8e84c9"/>
<rect x="89.68" y="951.34" width="4.13" height="41.46" fill="#9a4c20"/>
<rect x="93.76" y="946.19" width="4.13" height="2.85" fill="#8e84c9"/>
<rect x="93.76" y="949.03" width="4.13" height="43.77" fill="#9a4c20"/>
<rect x="97.84" y="951.07" width="4.13" height="1.36" fill="#f39518"/>
<rect x="97.84" y="952.42" width="4.13" height="40.38" fill="#9a4c20"/>
<rect x="101.92" y="957.57" width="4.13" height="35.23" fill="#9a4c20"/>
<rect x="106" y="966.51" width="4.13" height="26.29" fill="#9a4c20"/>
<rect x="110.08" y="959.06" width="4.13" height="33.74" fill="#9a4c20"/>
<rect x="114.16" y="967.19" width="4.13" height="4.47" fill="#f39518"/>
<rect x="114.16" y="971.66" width="4.13" height="21.14" fill="#9a4c20"/>
<rect x="118.24" y="969.36" width="4.13" height="23.44" fill="#9a4c20"/>
<rect x="122.32" y="972.07" width="4.13" height="2.98" fill="#f39518"/>
<rect x="122.32" y="975.05" width="4.13" height="17.75" fill="#9a4c20"/>
<rect x="126.4" y="977.22" width="4.13" height="15.58" fill="#9a4c20"/>
<rect x="130.48" y="967.19" width="4.13" height="12.2" fill="#f39518"/>
<rect x="130.48" y="979.39" width="4.13" height="13.41" fill="#9a4c20"/>
<rect x="134.56" y="976.27" width="4.13" height="4.34" fill="#8e84c9"/>
<rect x="134.56" y="980.6" width="4.13" height="12.2" fill="#9a4c20"/>
<rect x="138.64" y="978.3" width="4.13" height="14.5" fill="#9a4c20"/>
<rect x="142.72" y="978.3" width="4.13" height="3.39" fill="#f39518"/>
<rect x="142.72" y="981.69" width="4.13" height="11.11" fill="#9a4c20"/>
<rect x="146.8" y="983.31" width="4.13" height="0.54" fill="#f39518"/>
<rect x="146.8" y="983.86" width="4.13" height="8.94" fill="#9a4c20"/>
<rect x="150.88" y="976.27" width="4.13" height="7.05" fill="#f39518"/>
<rect x="150.88" y="983.31" width="4.13" height="9.48" fill="#9a4c20"/>
<rect x="154.96" y="979.25" width="4.13" height="13.55" fill="#9a4c20"/>
<rect x="159.04" y="983.31" width="4.13" height="9.48" fill="#9a4c20"/>
<rect x="163.12" y="977.22" width="4.13" height="6.1" fill="#f39518"/>
<rect x="163.12" y="983.31" width="4.13" height="9.48" fill="#9a4c20"/>
<rect x="167.2" y="983.31" width="4.13" height="9.48" fill="#9a4c20"/>
<rect x="171.28" y="975.59" width="4.13" height="8.27" fill="#f39518"/>
<rect x="171.28" y="983.86" width="4.13" height="8.94" fill="#9a4c20"/>
<rect x="175.36" y="976.54" width="4.13" height="7.72" fill="#f39518"/>
<rect x="175.36" y="984.26" width="4.13" height="8.54" fill="#9a4c20"/>
<rect x="179.44" y="982.23" width="4.13" height="3.25" fill="#f39518"/>
<rect x="179.44" y="985.48" width="4.13" height="7.32" fill="#9a4c20"/>
<rect x="183.52" y="984.67" width="4.13" height="8.13" fill="#9a4c20"/>
<rect x="187.6" y="986.16" width="4.13" height="1.76" fill="#8e84c9"/>
<rect x="187.6" y="987.92" width="4.13" height="4.88" fill="#9a4c20"/>
<rect x="191.68" y="976.95" width="4.13" height="10.57" fill="#f39518"/>
<rect x="191.68" y="987.52" width="4.13" height="5.28" fill="#9a4c20"/>
<rect x="195.76" y="986.02" width="4.13" height="1.49" fill="#f39518"/>
<rect x="195.76" y="987.52" width="4.13" height="5.28" fill="#9a4c20"/>
<rect x="199.84" y="986.97" width="4.13" height="5.83" fill="#9a4c20"/>
<rect x="203.92" y="989.41" width="4.13" height="3.39" fill="#9a4c20"/>
<rect x="208" y="989.41" width="4.13" height="1.76" fill="#8e84c9"/>
<rect x="208" y="991.17" width="4.13" height="1.63" fill="#9a4c20"/>
<rect x="212.08" y="989.41" width="4.13" height="2.03" fill="#f39518"/>
<rect x="212.08" y="991.44" width="4.13" height="1.36" fill="#9a4c20"/>
<rect x="216.16" y="988.06" width="4.13" height="2.03" fill="#8e84c9"/>
<rect x="216.16" y="990.09" width="4.13" height="2.71" fill="#9a4c20"/>
<rect x="220.24" y="984.67" width="4.13" height="4.74" fill="#f39518"/>
<rect x="220.24" y="989.41" width="4.13" height="3.39" fill="#9a4c20"/>
<rect x="224.32" y="987.52" width="4.13" height="1.9" fill="#f39518"/>
<rect x="224.32" y="989.41" width="4.13" height="3.39" fill="#9a4c20"/>
<rect x="228.4" y="986.97" width="4.13" height="3.12" fill="#f39518"/>
<rect x="228.4" y="990.09" width="4.13" height="2.71" fill="#9a4c20"/>
<rect x="232.48" y="984.26" width="4.13" height="5.83" fill="#f39518"/>
<rect x="232.48" y="990.09" width="4.13" height="2.71" fill="#9a4c20"/>
<rect x="236.56" y="990.09" width="4.13" height="2.71" fill="#9a4c20"/>
<rect x="240.64" y="989.41" width="4.13" height="2.03" fill="#8e84c9"/>
<rect x="240.64" y="991.44" width="4.13" height="1.36" fill="#9a4c20"/>
<rect x="244.72" y="990.77" width="4.13" height="2.03" fill="#9a4c20"/>
<rect x="248.8" y="984.26" width="4.13" height="5.83" fill="#f39518"/>
<rect x="248.8" y="990.09" width="4.13" height="2.71" fill="#9a4c20"/>
<rect x="252.88" y="990.5" width="4.13" height="2.3" fill="#9a4c20"/>
<rect x="256.96" y="984.26" width="4.13" height="6.23" fill="#f39518"/>
<rect x="256.96" y="990.5" width="4.13" height="2.3" fill="#9a4c20"/>
<rect x="261.04" y="988.46" width="4.13" height="2.03" fill="#f39518"/>
<rect x="261.04" y="990.5" width="4.13" height="2.3" fill="#9a4c20"/>
<rect x="265.12" y="991.19" width="4.13" height="1.61" fill="#9a4c20"/>
<rect x="269.2" y="988.46" width="4.13" height="2.03" fill="#f39518"/>
<rect x="269.2" y="990.5" width="4.13" height="2.3" fill="#9a4c20"/>
<rect x="273.28" y="990.5" width="4.13" height="2.3" fill="#9a4c20"/>
<rect x="277.36" y="987.24" width="4.13" height="3.25" fill="#f39518"/>
<rect x="277.36" y="990.5" width="4.13" height="2.3" fill="#9a4c20"/>
<rect x="281.44" y="991.19" width="4.13" height="1.61" fill="#9a4c20"/>
<rect x="285.52" y="990.5" width="4.13" height="2.3" fill="#9a4c20"/>
<rect x="289.6" y="991.19" width="4.13" height="1.61" fill="#9a4c20"/>
<rect x="293.68" y="987.24" width="4.13" height="3.25" fill="#f39518"/>
<rect x="293.68" y="990.5" width="4.13" height="2.3" fill="#9a4c20"/>
<rect x="297.76" y="989.82" width="4.13" height="0.68" fill="#f39518"/>
<rect x="297.76" y="990.5" width="4.13" height="2.3" fill="#9a4c20"/>
<rect x="301.84" y="991.19" width="4.13" height="1.61" fill="#9a4c20"/>
<rect x="305.92" y="990.5" width="4.13" height="2.3" fill="#9a4c20"/>
<rect x="310" y="990.5" width="4.13" height="2.3" fill="#9a4c20"/>
<rect x="314.08" y="991.19" width="4.13" height="1.61" fill="#9a4c20"/>
<rect x="318.16" y="991.31" width="4.13" height="1.49" fill="#9a4c20"/>
<rect x="322.24" y="986.57" width="4.13" height="4.74" fill="#f39518"/>
<rect x="322.24" y="991.31" width="4.13" height="1.49" fill="#9a4c20"/>
<rect x="326.32" y="991.31" width="4.13" height="1.49" fill="#9a4c20"/>
<rect x="330.4" y="989.55" width="4.13" height="1.76" fill="#f39518"/>
<rect x="330.4" y="991.31" width="4.13" height="1.49" fill="#9a4c20"/>
<rect x="334.48" y="989.55" width="4.13" height="1.76" fill="#f39518"/>
<rect x="334.48" y="991.31" width="4.13" height="1.49" fill="#9a4c20"/>
<rect x="338.56" y="991.31" width="4.13" height="1.49" fill="#9a4c20"/>
<rect x="342.64" y="991.76" width="4.13" height="1.04" fill="#9a4c20"/>
<rect x="346.72" y="991.76" width="4.13" height="1.04" fill="#9a4c20"/>
<rect x="350.8" y="990.09" width="4.13" height="1.22" fill="#f39518"/>
<rect x="350.8" y="991.31" width="4.13" height="1.49" fill="#9a4c20"/>
<rect x="354.88" y="990.09" width="4.13" height="1.22" fill="#f39518"/>
<rect x="354.88" y="991.31" width="4.13" height="1.49" fill="#9a4c20"/>
<rect x="358.96" y="988.46" width="4.13" height="2.85" fill="#f39518"/>
<rect x="358.96" y="991.31" width="4.13" height="1.49" fill="#9a4c20"/>
<rect x="363.04" y="991.31" width="4.13" height="1.49" fill="#9a4c20"/>
<rect x="367.12" y="986.97" width="4.13" height="4.34" fill="#f39518"/>
<rect x="367.12" y="991.31" width="4.13" height="1.49" fill="#9a4c20"/>
<rect x="371.2" y="991.31" width="4.13" height="1.49" fill="#9a4c20"/>
<rect x="375.28" y="991.31" width="4.13" height="1.49" fill="#9a4c20"/>
<rect x="379.36" y="991.76" width="4.13" height="1.04" fill="#9a4c20"/>
<rect x="383.44" y="991.76" width="4.13" height="1.04" fill="#9a4c20"/>
<rect x="387.52" y="990.09" width="4.13" height="1.22" fill="#f39518"/>
<rect x="387.52" y="991.31" width="4.13" height="1.49" fill="#9a4c20"/>
<rect x="391.6" y="991.31" width="4.13" height="1.49" fill="#9a4c20"/>
<rect x="395.68" y="991.76" width="4.13" height="1.04" fill="#9a4c20"/>
<rect x="399.76" y="991.72" width="4.13" height="1.08" fill="#9a4c20"/>
<rect x="403.84" y="991.72" width="4.13" height="1.08" fill="#9a4c20"/>
<rect x="407.92" y="991.72" width="4.13" height="1.08" fill="#9a4c20"/>
<rect x="412" y="990.09" width="4.13" height="1.63" fill="#f39518"/>
<rect x="412" y="991.72" width="4.13" height="1.08" fill="#9a4c20"/>
<rect x="416.08" y="991.72" width="4.13" height="1.08" fill="#9a4c20"/>
<rect x="420.16" y="991.72" width="4.13" height="1.08" fill="#9a4c20"/>
<rect x="424.24" y="990.09" width="4.13" height="1.63" fill="#f39518"/>
<rect x="424.24" y="991.72" width="4.13" height="1.08" fill="#9a4c20"/>
<rect x="428.32" y="991.72" width="4.13" height="1.08" fill="#9a4c20"/>
<rect x="432.4" y="988.46" width="4.13" height="3.25" fill="#f39518"/>
<rect x="432.4" y="991.72" width="4.13" height="1.08" fill="#9a4c20"/>
<rect x="436.48" y="991.72" width="4.13" height="1.08" fill="#9a4c20"/>
<rect x="440.56" y="991.72" width="4.13" height="1.08" fill="#9a4c20"/>
<rect x="444.64" y="991.72" width="4.13" height="1.08" fill="#9a4c20"/>
<rect x="448.72" y="991.72" width="4.13" height="1.08" fill="#9a4c20"/>
<rect x="452.8" y="989.82" width="4.13" height="1.9" fill="#f39518"/>
<rect x="452.8" y="991.72" width="4.13" height="1.08" fill="#9a4c20"/>
<rect x="456.88" y="989.82" width="4.13" height="1.9" fill="#f39518"/>
<rect x="456.88" y="991.72" width="4.13" height="1.08" fill="#9a4c20"/>
<rect x="460.96" y="991.72" width="4.13" height="1.08" fill="#9a4c20"/>
<rect x="465.04" y="988.46" width="4.13" height="3.25" fill="#f39518"/>
<rect x="465.04" y="991.72" width="4.13" height="1.08" fill="#9a4c20"/>
<rect x="469.12" y="991.72" width="4.13" height="1.08" fill="#9a4c20"/>
<rect x="473.2" y="990.77" width="4.13" height="0.95" fill="#f39518"/>
<rect x="473.2" y="991.72" width="4.13" height="1.08" fill="#9a4c20"/>
<rect x="477.28" y="990.77" width="4.13" height="0.95" fill="#f39518"/>
<rect x="477.28" y="991.72" width="4.13" height="1.08" fill="#9a4c20"/>
<rect x="481.36" y="991.72" width="4.13" height="1.08" fill="#9a4c20"/>
<rect x="485.44" y="991.72" width="4.13" height="1.08" fill="#9a4c20"/>
</g>
<line x1="48.5" y1="788" x2="48.5" y2="1001.6" stroke="#111111" stroke-width="1.4"/>
<line x1="47.8" y1="1001" x2="477" y2="1001" stroke="#111111" stroke-width="1.4"/>
<line x1="44.3" y1="992.8" x2="48.5" y2="992.8" stroke="#111111" stroke-width="1.2"/>
<text x="40" y="996" style='font-size:9.2px;fill:#231f20;stroke:#231f20;stroke-width:0.12px' text-anchor="end" textLength="5.2" lengthAdjust="spacingAndGlyphs">0</text>
<line x1="44.3" y1="965.7" x2="48.5" y2="965.7" stroke="#111111" stroke-width="1.2"/>
<text x="40" y="968.9" style='font-size:9.2px;fill:#231f20;stroke:#231f20;stroke-width:0.12px' text-anchor="end" textLength="5.2" lengthAdjust="spacingAndGlyphs">2</text>
<line x1="44.3" y1="938.6" x2="48.5" y2="938.6" stroke="#111111" stroke-width="1.2"/>
<text x="40" y="941.8" style='font-size:9.2px;fill:#231f20;stroke:#231f20;stroke-width:0.12px' text-anchor="end" textLength="5.2" lengthAdjust="spacingAndGlyphs">4</text>
<line x1="44.3" y1="911.5" x2="48.5" y2="911.5" stroke="#111111" stroke-width="1.2"/>
<text x="40" y="914.7" style='font-size:9.2px;fill:#231f20;stroke:#231f20;stroke-width:0.12px' text-anchor="end" textLength="5.2" lengthAdjust="spacingAndGlyphs">6</text>
<line x1="44.3" y1="884.4" x2="48.5" y2="884.4" stroke="#111111" stroke-width="1.2"/>
<text x="40" y="887.6" style='font-size:9.2px;fill:#231f20;stroke:#231f20;stroke-width:0.12px' text-anchor="end" textLength="5.2" lengthAdjust="spacingAndGlyphs">8</text>
<line x1="44.3" y1="857.3" x2="48.5" y2="857.3" stroke="#111111" stroke-width="1.2"/>
<text x="40" y="860.5" style='font-size:9.2px;fill:#231f20;stroke:#231f20;stroke-width:0.12px' text-anchor="end" textLength="10.4" lengthAdjust="spacingAndGlyphs">10</text>
<line x1="44.3" y1="830.2" x2="48.5" y2="830.2" stroke="#111111" stroke-width="1.2"/>
<text x="40" y="833.4" style='font-size:9.2px;fill:#231f20;stroke:#231f20;stroke-width:0.12px' text-anchor="end" textLength="10.4" lengthAdjust="spacingAndGlyphs">12</text>
<line x1="44.3" y1="803.1" x2="48.5" y2="803.1" stroke="#111111" stroke-width="1.2"/>
<text x="40" y="806.3" style='font-size:9.2px;fill:#231f20;stroke:#231f20;stroke-width:0.12px' text-anchor="end" textLength="10.4" lengthAdjust="spacingAndGlyphs">14</text>
<line x1="65.2" y1="1001" x2="65.2" y2="1005" stroke="#111111" stroke-width="1.2"/>
<text x="65.2" y="1019.3" style='font-size:9.2px;fill:#231f20;stroke:#231f20;stroke-width:0.12px' text-anchor="middle" textLength="5.5" lengthAdjust="spacingAndGlyphs">0</text>
<line x1="106" y1="1001" x2="106" y2="1005" stroke="#111111" stroke-width="1.2"/>
<text x="106" y="1019.3" style='font-size:9.2px;fill:#231f20;stroke:#231f20;stroke-width:0.12px' text-anchor="middle" textLength="11" lengthAdjust="spacingAndGlyphs">10</text>
<line x1="146.8" y1="1001" x2="146.8" y2="1005" stroke="#111111" stroke-width="1.2"/>
<text x="146.8" y="1019.3" style='font-size:9.2px;fill:#231f20;stroke:#231f20;stroke-width:0.12px' text-anchor="middle" textLength="11" lengthAdjust="spacingAndGlyphs">20</text>
<line x1="187.6" y1="1001" x2="187.6" y2="1005" stroke="#111111" stroke-width="1.2"/>
<text x="187.6" y="1019.3" style='font-size:9.2px;fill:#231f20;stroke:#231f20;stroke-width:0.12px' text-anchor="middle" textLength="11" lengthAdjust="spacingAndGlyphs">30</text>
<line x1="228.4" y1="1001" x2="228.4" y2="1005" stroke="#111111" stroke-width="1.2"/>
<text x="228.4" y="1019.3" style='font-size:9.2px;fill:#231f20;stroke:#231f20;stroke-width:0.12px' text-anchor="middle" textLength="11" lengthAdjust="spacingAndGlyphs">40</text>
<line x1="269.2" y1="1001" x2="269.2" y2="1005" stroke="#111111" stroke-width="1.2"/>
<text x="269.2" y="1019.3" style='font-size:9.2px;fill:#231f20;stroke:#231f20;stroke-width:0.12px' text-anchor="middle" textLength="11" lengthAdjust="spacingAndGlyphs">50</text>
<line x1="310" y1="1001" x2="310" y2="1005" stroke="#111111" stroke-width="1.2"/>
<text x="310" y="1019.3" style='font-size:9.2px;fill:#231f20;stroke:#231f20;stroke-width:0.12px' text-anchor="middle" textLength="11" lengthAdjust="spacingAndGlyphs">60</text>
<line x1="350.8" y1="1001" x2="350.8" y2="1005" stroke="#111111" stroke-width="1.2"/>
<text x="350.8" y="1019.3" style='font-size:9.2px;fill:#231f20;stroke:#231f20;stroke-width:0.12px' text-anchor="middle" textLength="11" lengthAdjust="spacingAndGlyphs">70</text>
<line x1="391.6" y1="1001" x2="391.6" y2="1005" stroke="#111111" stroke-width="1.2"/>
<text x="391.6" y="1019.3" style='font-size:9.2px;fill:#231f20;stroke:#231f20;stroke-width:0.12px' text-anchor="middle" textLength="11" lengthAdjust="spacingAndGlyphs">80</text>
<line x1="432.4" y1="1001" x2="432.4" y2="1005" stroke="#111111" stroke-width="1.2"/>
<text x="432.4" y="1019.3" style='font-size:9.2px;fill:#231f20;stroke:#231f20;stroke-width:0.12px' text-anchor="middle" textLength="11" lengthAdjust="spacingAndGlyphs">90</text>
<line x1="473.2" y1="1001" x2="473.2" y2="1005" stroke="#111111" stroke-width="1.2"/>
<text x="473.2" y="1019.3" style='font-size:9.2px;fill:#231f20;stroke:#231f20;stroke-width:0.12px' text-anchor="middle" textLength="16.5" lengthAdjust="spacingAndGlyphs">100</text>
<text transform="translate(21.3 894.5) rotate(-90)" x="0" y="0" style='font-size:13px;fill:#231f20;stroke:#231f20;stroke-width:0.35px' text-anchor="middle" textLength="87" lengthAdjust="spacingAndGlyphs">Percentage of patients</text>
<text x="146.2" y="1036.7" style='font-size:13px;fill:#231f20;stroke:#231f20;stroke-width:0.35px' textLength="234.2" lengthAdjust="spacingAndGlyphs">Sum of units received per patient over the 2008-2018 period</text>
<line x1="491" y1="995.5" x2="494.5" y2="986.5" stroke="#111111" stroke-width="1.3"/>
<line x1="496" y1="995.5" x2="499.5" y2="986.5" stroke="#111111" stroke-width="1.3"/>
<line x1="491" y1="1014.5" x2="494.5" y2="1005.5" stroke="#111111" stroke-width="1.3"/>
<line x1="496" y1="1014.5" x2="499.5" y2="1005.5" stroke="#111111" stroke-width="1.3"/>
<rect x="347.2" y="842.3" width="8.6" height="8.6" fill="#8e84c9"/>
<text x="361.1" y="850" style='font-size:11px;fill:#231f20;stroke:#231f20;stroke-width:0.12px' textLength="72.8" lengthAdjust="spacingAndGlyphs">Non-immunized</text>
<rect x="347.2" y="858.5" width="8.6" height="8.8" fill="#f39518"/>
<text x="361.1" y="866.1" style='font-size:11px;fill:#231f20;stroke:#231f20;stroke-width:0.12px' textLength="49.7" lengthAdjust="spacingAndGlyphs">Immunized</text>
</svg>
</body></html>
